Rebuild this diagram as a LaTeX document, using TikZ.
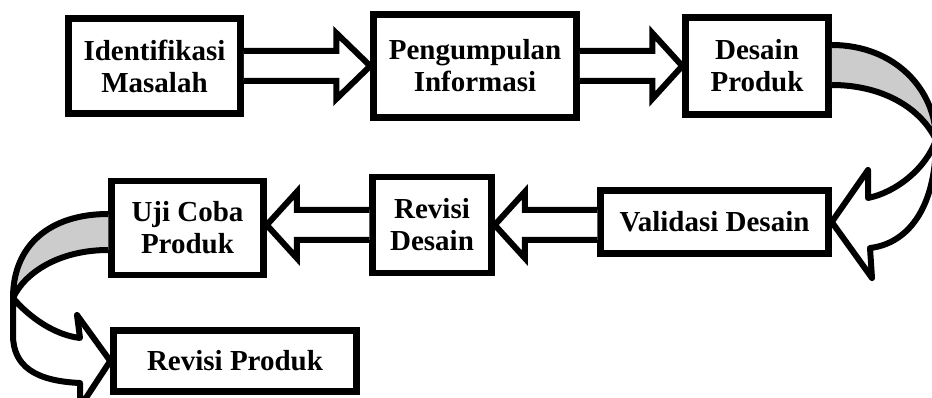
\documentclass[tikz,border=0pt]{standalone}
\usepackage{fontspec}
\setmainfont{Liberation Serif}
\usetikzlibrary{calc}

\tikzset{
  stage/.style={draw, line width=6.5pt, fill=white, align=center, inner sep=0pt,
    font=\bfseries\fontsize{29}{32}\selectfont},
  blockarrow/.style={draw, line width=6pt, fill=white},
  ribbon/.style={draw, line width=6pt, line join=round},
}

\begin{document}
\begin{tikzpicture}[x=1pt, y=-1pt]
\useasboundingbox (0,0) rectangle (932,398);
\node[stage, minimum width=172, minimum height=95] (idm) at (154.5,66) {Identifikasi\\Masalah};
\node[stage, minimum width=203, minimum height=103] (pin) at (475,66) {Pengumpulan\\Informasi};
\node[stage, minimum width=143, minimum height=97] (dsp) at (757,66) {Desain\\Produk};
\node[stage, minimum width=228, minimum height=63] (val) at (714.5,222) {Validasi Desain};
\node[stage, minimum width=119, minimum height=96] (rde) at (432,225) {Revisi\\Desain};
\node[stage, minimum width=152, minimum height=94] (ujc) at (187.5,228) {Uji Coba\\Produk};
\node[stage, minimum width=243, minimum height=61] (rpr) at (235,361) {Revisi Produk};
\draw[blockarrow] ($(idm.east)+(0,-15)$) -- ($(pin.west)+(-34,-15)$) -- ($(pin.west)+(-34,-33)$) -- (pin.west) -- ($(pin.west)+(-34,33)$) -- ($(pin.west)+(-34,15)$) -- ($(idm.east)+(0,15)$);
\draw[blockarrow] ($(pin.east)+(0,-15)$) -- ($(dsp.west)+(-30,-15)$) -- ($(dsp.west)+(-30,-33)$) -- (dsp.west) -- ($(dsp.west)+(-30,33)$) -- ($(dsp.west)+(-30,15)$) -- ($(pin.east)+(0,15)$);
\draw[blockarrow] ($(val.west |- rde.east)+(0,-15)$) -- ($(rde.east)+(30,-15)$) -- ($(rde.east)+(30,-33)$) -- (rde.east) -- ($(rde.east)+(30,33)$) -- ($(rde.east)+(30,15)$) -- ($(val.west |- rde.east)+(0,15)$);
\draw[blockarrow] ($(rde.west)+(0,-15)$) -- ($(ujc.east |- rde.west)+(30,-15)$) -- ($(ujc.east |- rde.west)+(30,-33)$) -- (ujc.east |- rde.west) -- ($(ujc.east |- rde.west)+(30,33)$) -- ($(ujc.east |- rde.west)+(30,15)$) -- ($(rde.west)+(0,15)$);
\draw[ribbon, fill=black!20] ($(dsp.east)+(0,-21)$) .. controls (895,45) and (936,90) .. (936,140) .. controls (922,110) and (885,85) .. ($(dsp.east)+(0,19)$);
\draw[ribbon, fill=white] (936,140) .. controls (926,168) and (897,192) .. (868,198) -- (868,170) -- (val.east) -- (872,278) -- (870,248) .. controls (905,244) and (936,212) .. (936,140) -- cycle;
\draw[ribbon, fill=black!20] ($(ujc.west)+(0,-14)$) .. controls (50,214) and (13,245) .. (13,298) .. controls (25,272) and (60,250) .. ($(ujc.west)+(0,22)$);
\draw[ribbon, fill=white] (13,298) .. controls (30,318) and (55,335) .. (80,338) -- (77,315) -- (rpr.west) -- (80,407) -- (80,383) .. controls (35,381) and (13,366) .. (13,335) -- cycle;
\end{tikzpicture}
\end{document}
